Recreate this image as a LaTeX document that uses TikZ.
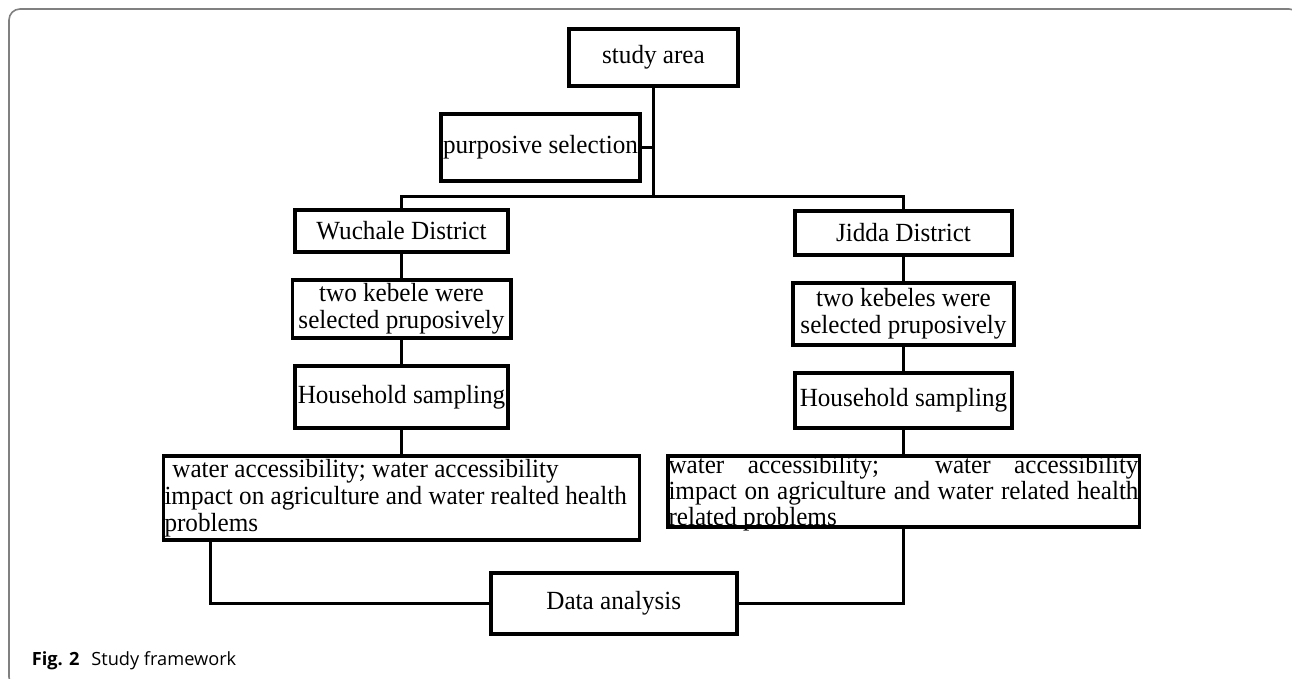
\documentclass[tikz,border=0pt]{standalone}
\usepackage{fontspec}
\setmainfont[FakeStretch=0.96]{Liberation Serif}
\newfontfamily\capfont{Open Sans}
\usepackage{xcolor}
\usepackage{tikz}
\usetikzlibrary{positioning}
\definecolor{frameGray}{RGB}{128,128,128}
\tikzset{
    box/.style={rectangle, draw=black, line width=1.8pt, fill=white, align=center, inner sep=1pt, font=\fontsize{13.1}{13.3}\selectfont},
    link/.style={line width=1.5pt},
    frameline/.style={draw=frameGray, line width=0.8pt, rounded corners=5.5pt}
}

\begin{document}
\begin{tikzpicture}[
        x=0.5pt, y=-0.5pt,
        node distance=12pt,
        % Styles
        wide/.style={box, align=left, text width=237pt, inner xsep=0.5pt, inner ysep=0pt, text height=11.1pt, text depth=31.1pt},
        widej/.style={box, align=justify, text width=235pt, inner xsep=0.4pt, inner ysep=0pt, text height=9pt, text depth=26.7pt, font=\fontsize{13.1}{13}\selectfont}
    ]
    \clip (0,0) rectangle (1292,679);

    % --- FRAME ---
    \draw[frameline] (1300,40) -- (1300,9) -- (9,9) -- (9,688) -- (40,688);

    % --- TOP ---

    % Study area
    \node[box, minimum width=84.7pt, minimum height=28.7pt] (StudyArea) at (653.5,57.5) {study area};

    % Purposive selection
    \node[box, minimum width=98.7pt, minimum height=33.7pt] (Purposive) at (540.5,147.5) {purposive selection};

    % Branch point
    \coordinate (Split) at (653.5,197);
    \draw[link] (StudyArea) -- (Split);
    \draw[link] (Purposive.east) -- (Purposive.east -| Split);

    % --- WUCHALE (Left Side) ---
    \node[box, minimum width=106.7pt, minimum height=21.2pt] (Wuchale) at (401.5,231) {Wuchale District};
    \node[box, below=of Wuchale, minimum width=109.2pt, minimum height=29.2pt] (KebeleW) {two kebele were\\selected pruposively};
    \node[box, below=of KebeleW, minimum width=106.7pt, minimum height=31.2pt] (HouseW) {Household sampling};
    % natural word spaces in this box
    \node[wide, below=of HouseW] (WaterW) {\spaceskip=0pt\xspaceskip=0pt\relax
        \mbox{\hspace*{.3em}water accessibility; water accessibility}\\\mbox{impact on agriculture and water realted health}\\\mbox{problems}};

    % --- JIDDA (Right Side) ---
    \node[box, minimum width=108.7pt, minimum height=22.2pt] (Jidda) at (903.5,233) {Jidda District};
    \node[box, below=of Jidda, minimum width=110.7pt, minimum height=31.2pt] (KebeleJ) {two kebeles were\\selected pruposively};
    \node[box, below=of KebeleJ, minimum width=108.7pt, minimum height=27.7pt] (HouseJ) {Household sampling};
    \node[widej, below=of HouseJ] (WaterJ) {water accessibility; \ water accessibility\linebreak impact on agriculture and water related health\linebreak related problems};

    % Split to districts
    \draw[link] (Wuchale.north) |- (Split) -| (Jidda.north);

    % Columns
    \draw[link] (Wuchale) -- (KebeleW);
    \draw[link] (KebeleW) -- (HouseW);
    \draw[link] (HouseW) -- (WaterW);
    \draw[link] (Jidda) -- (KebeleJ);
    \draw[link] (KebeleJ) -- (HouseJ);
    \draw[link] (HouseJ) -- (WaterJ);

    % --- DATA ANALYSIS ---
    \node[box, minimum width=123pt, minimum height=30.7pt] (Data) at (613.75,603.5) {Data analysis};
    \draw[link] ([xshift=24.5pt]WaterW.south west) |- (Data.west);
    \draw[link] (WaterJ.south) |- (Data.east);

    % Caption
    \node[anchor=base west, inner sep=0pt, font=\capfont\fontsize{9.1}{10}\selectfont] (Caption) at (31.5,665.7) {\textbf{Fig. 2}\hspace{3.5pt} Study framework};

\end{tikzpicture}
\end{document}
